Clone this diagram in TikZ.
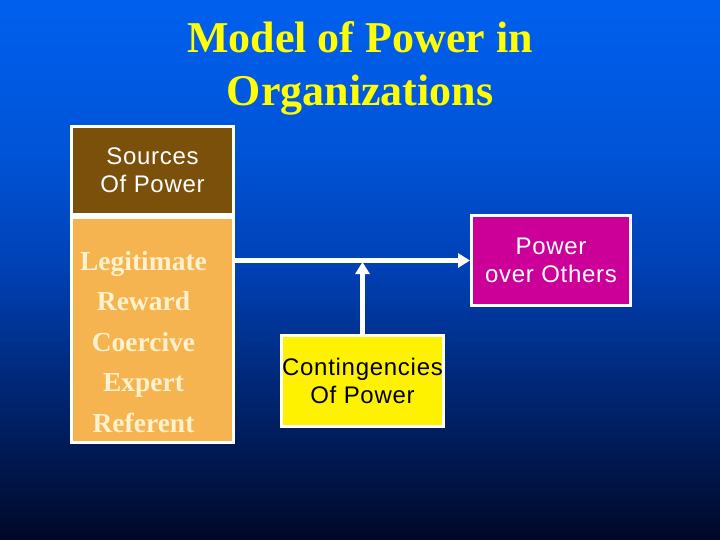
\documentclass[tikz,border=0pt]{standalone}
\usepackage{fontspec}
\setmainfont{Liberation Serif}
\setsansfont{Liberation Sans}[LetterSpace=3]
\usetikzlibrary{positioning,arrows.meta}
\definecolor{bgtop}{RGB}{0,96,238}
\definecolor{bgupper}{RGB}{0,84,215}
\definecolor{bgmid}{RGB}{0,64,180}
\definecolor{bgdark}{RGB}{0,36,110}
\definecolor{bgbot}{RGB}{0,8,40}
\definecolor{titleyellow}{RGB}{255,255,0}
\definecolor{srcbrown}{RGB}{122,80,10}
\definecolor{srcorange}{RGB}{245,180,80}
\definecolor{srccream}{RGB}{255,242,205}
\definecolor{powmagenta}{RGB}{204,0,153}
\pgfdeclareverticalshading{slidebg}{100bp}{color(0bp)=(bgbot); color(25bp)=(bgbot); color(38bp)=(bgdark); color(50bp)=(bgmid); color(61bp)=(bgupper); color(75bp)=(bgtop); color(100bp)=(bgtop)}
\tikzset{panel/.style = {draw=white, line width=3pt, inner sep=0pt, align=center}}
\tikzset{sanslabel/.style = {font=\sffamily\fontsize{24}{28}\selectfont}}
\tikzset{flow/.style = {draw=white, line width=5.5pt, -{Triangle[length=12pt,width=14pt]}}}

\begin{document}
\begin{tikzpicture}[x=1pt, y=-1pt]
  \useasboundingbox (0,0) rectangle (720,540);
  \shade [shading=slidebg] (0,0) rectangle (720,540);
  % title
  \node [align=center, text=titleyellow, font=\bfseries\fontsize{44}{53}\selectfont] (title) at (360,68) {Model of Power in\\Organizations};
  % boxes
  \node [panel, sanslabel, fill=srcbrown, text=white, minimum width=162pt, minimum height=88pt] (sources) at (152.5,170.5) {Sources\\Of Power};
  \node [panel, fill=srcorange, minimum width=162pt, minimum height=225pt] (bases) at (152.5,330) {};
  \node [align=center, text=srccream, font=\bfseries\fontsize{27.5}{40.5}\selectfont] (basesList) at ([shift={(-9,12)}]bases.center) {Legitimate\\Reward\\Coercive\\Expert\\Referent};
  \node [panel, sanslabel, fill=powmagenta, text=white, minimum width=159pt, minimum height=90pt] (power) at (551,260.5) {Power\\over Others};
  \node [panel, sanslabel, fill=yellow, text=black, minimum width=162pt, minimum height=91pt] (contingency) at (362.5,381) {Contingencies\\Of Power};
  \coordinate (meet) at (362.5,262);
  % arrows
  \draw [flow] (bases.east |- power.west) -- (power.west);
  \draw [flow] (contingency.north) -- (meet);
\end{tikzpicture}
\end{document}
